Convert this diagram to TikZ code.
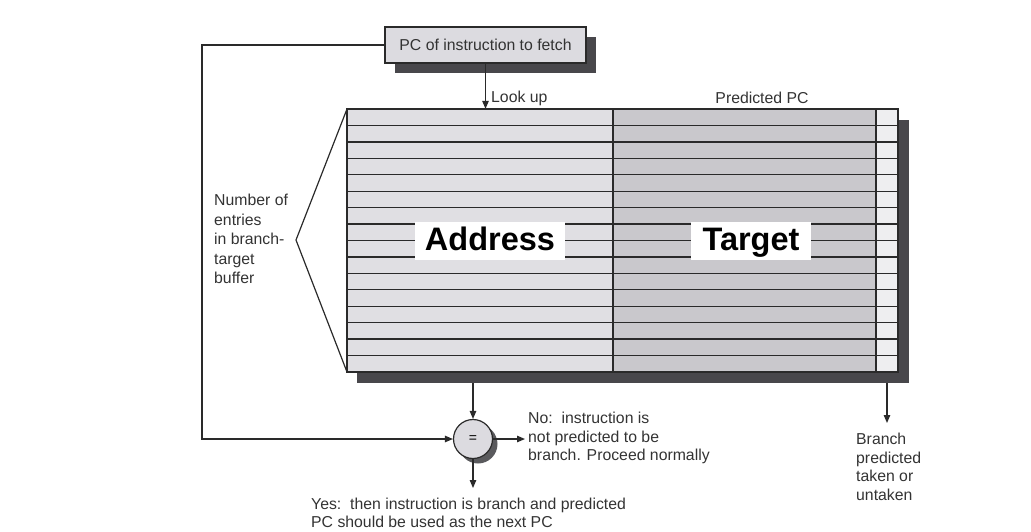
\documentclass[tikz,border=0pt]{standalone}
\usepackage{fontspec}
\setmainfont{Liberation Sans}
\usetikzlibrary{arrows.meta}
\definecolor{addrfill}{HTML}{E0DFE3}
\definecolor{targfill}{HTML}{C9C8CC}
\definecolor{bitfill}{HTML}{EEEEF0}
\definecolor{shadowc}{HTML}{48474B}
\definecolor{boxfill}{HTML}{DCDBE0}
\definecolor{linec}{HTML}{2A2A2A}
\definecolor{textc}{HTML}{333333}
\begin{document}
\begin{tikzpicture}[x=1pt,y=-1pt,
  lbl/.style={font=\fontsize{15.8}{18.5}\selectfont, text=textc, inner sep=0pt, align=left},
  bigl/.style={font=\fontsize{32.5}{34}\selectfont\bfseries, fill=white, inner sep=0pt, minimum height=38pt,
    text height=23pt, text depth=5pt},
  conn/.style={draw=linec, line width=1.2pt},
  arr/.style={conn, -{Triangle[length=8pt,width=6.5pt]}},
  grid/.style={draw=linec, line width=1.3pt}]
\useasboundingbox (0,0) rectangle (1031,531);
% PC box
\fill[shadowc] (395,37) rectangle (596,73);
\node[draw=linec, line width=1.2pt, fill=boxfill, minimum width=201pt, minimum height=36pt, inner sep=0pt,
  font=\fontsize{15.8}{18}\selectfont, text=textc] (pc) at (485.5,45) {PC of instruction to fetch};
% table
\fill[shadowc] (357,120) rectangle (909,383);
\node[minimum width=551pt, minimum height=263pt, inner sep=0pt] (tbl) at (622.5,240.5) {};
\fill[addrfill] (347,109) rectangle (613,372);
\fill[targfill] (613,109) rectangle (876,372);
\fill[bitfill] (876,109) rectangle (898,372);
\foreach \i in {1,...,15} {
  \draw[grid] (347,{109+\i*263/16}) -- (898,{109+\i*263/16});
}
\draw[grid] (347,109) rectangle (898,372);
\draw[grid] (613,109) -- (613,372);
\draw[grid] (876,109) -- (876,372);
\node[bigl, minimum width=150pt] (addr) at (490,241) {Address};
\node[bigl, minimum width=120pt] (targ) at (751,241) {Target};
% labels above table
\node[lbl, anchor=west] (lookup) at (491,98) {Look up};
\node[lbl] (ppc) at (762,98) {Predicted PC};
% brace
\coordinate (bt) at (347,109);
\coordinate (bm) at (296,240);
\coordinate (bb) at (347,372);
\draw[conn] (bt) -- (bm) -- (bb);
\node[lbl, anchor=west, font=\fontsize{15.8}{19.5}\selectfont] (num) at (214,239) {Number of\\entries\\in branch-\\target\\buffer};
% compare circle
\fill[shadowc!90] (478,444) circle (19.5pt);
\node[circle, draw=linec, line width=1.2pt, fill=boxfill, minimum size=39pt, inner sep=0pt,
  font=\fontsize{14}{14}\selectfont] (cmp) at (473,439) {=};
% connectors
\draw[arr] (pc.south) -- (pc.south |- tbl.north);
\coordinate (tb) at (473,383);
\draw[arr] (tb) -- (cmp.north);
\coordinate (fb) at (202,45);
\coordinate (fc) at (202,439);
\draw[arr] (pc.west |- fb) -- (fb) -- (fc) -- (cmp.west);
\coordinate (noend) at (525,439);
\draw[arr] (cmp.east) -- (noend);
\coordinate (yesend) at (473,488);
\draw[arr] (cmp.south) -- (yesend);
\coordinate (bs) at (887,383);
\coordinate (be) at (887,423);
\draw[arr] (bs) -- (be);
% text labels
\node[lbl, anchor=west] (no) at (528,438) {No:\ \ instruction is\\not predicted to be\\branch. Proceed normally};
\node[lbl, anchor=west] (yes) at (311,513) {Yes:\ \ then instruction is branch and predicted\\PC should be used as the next PC};
\node[lbl, anchor=west] (br) at (856,467) {Branch\\predicted\\taken or\\untaken};
\end{tikzpicture}
\end{document}
